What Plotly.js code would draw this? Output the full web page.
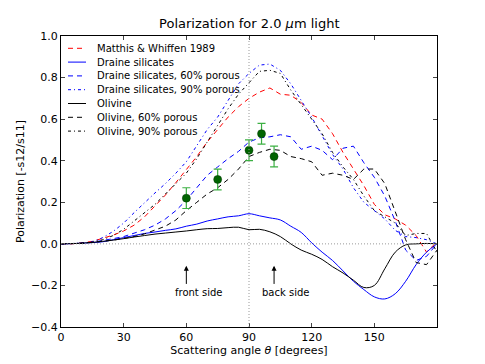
<!DOCTYPE html>
<html>
<head>
<meta charset="utf-8">
<script src="https://cdn.plot.ly/plotly-3.0.1.min.js"></script>
<style>
  body { margin: 0; background: #fff; }
  #chart { width: 485px; height: 364px; }
</style>
</head>
<body>
<div id="chart"></div>
<script>
// scattering angle grid (degrees), shared by all model curves
var angle = [0,5,10,15,20,25,30,35,40,45,50,55,60,65,70,75,80,85,90,95,100,105,110,115,120,125,130,135,140,145,150,155,160,165,170,175,180];

var matthis = [0,0,0.005,0.012,0.027,0.042,0.062,0.09,0.13,0.18,0.235,0.295,0.355,0.42,0.49,0.55,0.61,0.66,0.70,0.73,0.75,0.72,0.715,0.68,0.62,0.60,0.53,0.44,0.36,0.28,0.19,0.14,0.12,0.09,0.04,-0.04,0.01];
var draine = [0,0.001,0.003,0.006,0.01,0.02,0.03,0.04,0.05,0.057,0.065,0.072,0.085,0.095,0.11,0.12,0.13,0.135,0.145,0.135,0.125,0.115,0.085,0.055,0.005,-0.04,-0.08,-0.13,-0.18,-0.22,-0.255,-0.265,-0.24,-0.18,-0.10,-0.04,0];
var draine60 = [0,0,0.003,0.008,0.015,0.025,0.035,0.05,0.068,0.09,0.12,0.16,0.21,0.27,0.33,0.37,0.41,0.445,0.49,0.51,0.515,0.525,0.515,0.455,0.47,0.45,0.405,0.46,0.47,0.39,0.32,0.23,0.11,-0.03,-0.08,-0.06,0];
var draine90 = [0,0,0.003,0.01,0.03,0.06,0.10,0.15,0.20,0.245,0.29,0.34,0.395,0.47,0.55,0.61,0.69,0.77,0.82,0.86,0.865,0.835,0.77,0.69,0.61,0.52,0.43,0.36,0.27,0.20,0.16,0.12,0.065,0.035,0.03,0.02,0];
var olivine = [0,0.001,0.003,0.007,0.012,0.018,0.025,0.033,0.04,0.047,0.052,0.057,0.062,0.068,0.073,0.074,0.078,0.08,0.068,0.07,0.058,0.035,0,-0.03,-0.05,-0.075,-0.11,-0.14,-0.175,-0.21,-0.2,-0.12,-0.04,-0.005,0,0.002,0];
var olivine60 = [0,0,0.003,0.007,0.012,0.018,0.026,0.035,0.048,0.065,0.085,0.115,0.16,0.2,0.24,0.27,0.31,0.36,0.42,0.44,0.455,0.45,0.42,0.41,0.395,0.33,0.34,0.33,0.31,0.36,0.36,0.29,0.16,0.02,-0.09,-0.10,-0.03];
var olivine90 = [0,0,0.003,0.008,0.02,0.04,0.07,0.11,0.15,0.19,0.24,0.29,0.34,0.41,0.49,0.565,0.65,0.72,0.775,0.83,0.835,0.82,0.74,0.67,0.60,0.53,0.44,0.37,0.31,0.23,0.16,0.13,0.10,0.04,0.05,0.05,-0.04];

// measured points
var obsAngle = [60, 75, 90, 96, 102];
var obsPol = [0.22, 0.31, 0.45, 0.53, 0.42];
var obsErr = [0.05, 0.05, 0.05, 0.05, 0.05];

var names = ["Matthis & Whiffen 1989", "Draine silicates", "Draine silicates, 60% porous",
             "Draine silicates, 90% porous", "Olivine", "Olivine, 60% porous", "Olivine, 90% porous"];
var series = [matthis, draine, draine60, draine90, olivine, olivine60, olivine90];
var colors = ["#ff0000", "#0000ff", "#0000ff", "#0000ff", "#000000", "#000000", "#000000"];
var DASH = "5px,4px", DASHDOT = "3px,3px,1px,3px";
var dashes = [DASH, "solid", DASH, DASHDOT, "solid", DASH, DASHDOT];

var data = series.map(function(s, i) {
    return {
        x: angle, y: s, type: "scatter", mode: "lines", name: names[i],
        line: {color: colors[i], width: 1, dash: dashes[i], shape: dashes[i] == "solid" ? "spline" : "linear"},
        showlegend: false
    };
});
data.push({
    x: obsAngle, y: obsPol, type: "scatter", mode: "markers", showlegend: false,
    marker: {color: "#006400", size: 8, line: {color: "#003300", width: 0.5}},
    error_y: {type: "data", array: obsErr, color: "#3cb043", thickness: 1.2, width: 4}
});

// plot box in pixels (for legend placement)
var L = 61, T = 36, W = 376, H = 291;
function px(x) { return (x - L) / W; }
function py(y) { return (T + H - y) / H; }

var shapes = [
    {type: "line", xref: "x", yref: "paper", x0: 90, x1: 90, y0: 0, y1: 1, line: {color: "#999", width: 1, dash: "1px,2px"}},
    {type: "line", xref: "paper", yref: "y", x0: 0, x1: 1, y0: 0, y1: 0, line: {color: "#999", width: 1, dash: "1px,2px"}}
];
var annotations = [];
names.forEach(function(n, i) {
    var yy = 48.3 + i * 13.8;
    shapes.push({type: "line", xref: "paper", yref: "paper", x0: px(68), x1: px(86), y0: py(yy), y1: py(yy),
                 line: {color: colors[i], width: 1, dash: dashes[i]}});
    annotations.push({xref: "paper", yref: "paper", x: px(95), y: py(yy), text: n, showarrow: false,
                      xanchor: "left", yanchor: "middle", font: {size: 10}});
});

// front / back side markers
[[60, "front side"], [102, "back side"]].forEach(function(a) {
    annotations.push({x: a[0], y: -0.105, ax: a[0], ay: -0.2, axref: "x", ayref: "y", text: "",
                      showarrow: true, arrowhead: 2, arrowsize: 1, arrowwidth: 1, arrowcolor: "#000"});
    annotations.push({x: a[0] - 6.5, y: -0.235, text: a[1], showarrow: false, xanchor: "left",
                      yanchor: "middle", font: {size: 10}});
});

var layout = {
    width: 485, height: 364,
    margin: {l: L, r: 485 - L - W, t: T, b: 364 - T - H},
    paper_bgcolor: "#fff", plot_bgcolor: "#fff",
    font: {family: "DejaVu Sans", size: 11, color: "#000"},
    title: {text: "Polarization for 2.0 <i>μ</i>m light", font: {size: 13}, x: 0.514, xanchor: "center", y: 0.935, yanchor: "middle"},
    xaxis: {
        range: [0, 180], tickvals: [0, 30, 60, 90, 120, 150], ticks: "inside", ticklen: 4,
        showline: true, linecolor: "#000", linewidth: 1, mirror: "ticks", showgrid: false, zeroline: false,
        title: {text: "Scattering angle <i>θ</i> [degrees]", font: {size: 11}, standoff: 1}
    },
    yaxis: {
        range: [-0.4, 1.0], tickvals: [-0.4, -0.2, 0, 0.2, 0.4, 0.6, 0.8, 1.0],
        ticktext: ["\u22120.4", "\u22120.2", "0.0", "0.2", "0.4", "0.6", "0.8", "1.0"],
        ticks: "inside", ticklen: 4, showline: true, linecolor: "#000", linewidth: 1, mirror: "ticks",
        showgrid: false, zeroline: false,
        title: {text: "Polarization [-s12/s11]", font: {size: 11}, standoff: 4}
    },
    shapes: shapes,
    annotations: annotations,
    showlegend: false
};

Plotly.newPlot("chart", data, layout, {displayModeBar: false, staticPlot: true});
</script>
</body>
</html>
